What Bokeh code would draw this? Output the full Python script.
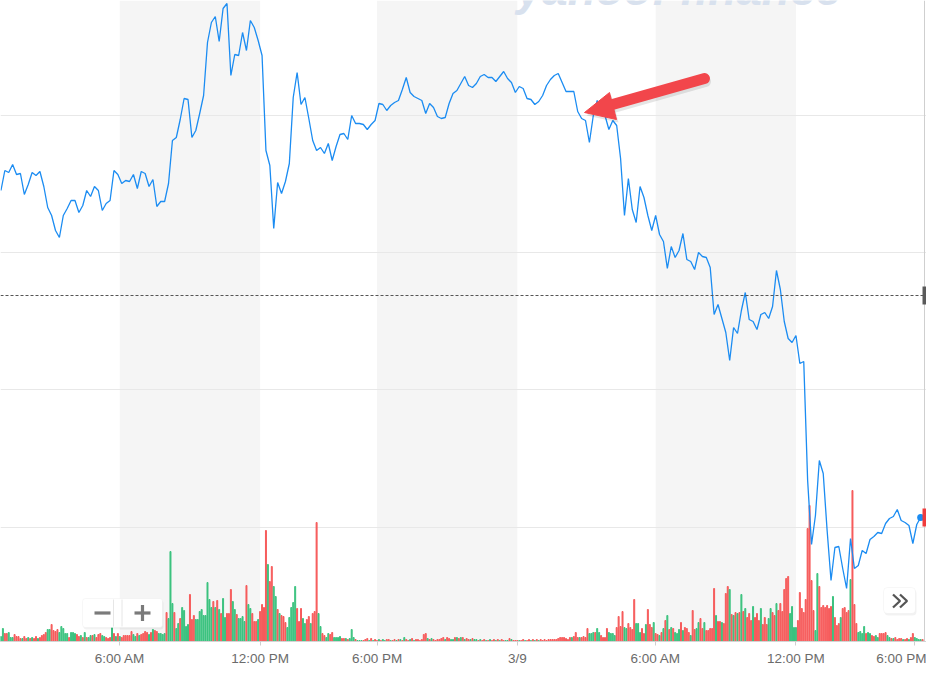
from bokeh.plotting import figure
from bokeh.models import Range1d, FixedTicker, Span, BoxAnnotation, Label
from bokeh.embed import file_html
from bokeh.resources import INLINE

# ---------------- data ----------------
# x positions are 5-minute bar indices; ticks every six hours
tick_index = [61, 133, 193, 265, 336, 408, 469]
tick_labels = ["6:00 AM", "12:00 PM", "6:00 PM", "3/9", "6:00 AM", "12:00 PM", "6:00 PM"]
session_bands = [(61, 133), (193, 265), (336, 408)]
price_levels = [17.3, 31.1, 44.8, 58.5]
prev_close = 40.5

# price sampled every second bar (10 minutes)
price = [
    51.0, 53.0, 52.8, 53.6, 52.6, 52.7, 50.6, 51.6, 52.8, 52.5,
    52.9, 51.4, 49.3, 48.5, 47.0, 46.3, 48.5, 49.2, 50.0, 50.0,
    48.8, 49.5, 51.0, 50.4, 51.4, 51.0, 49.0, 49.7, 50.0, 53.0,
    52.6, 51.7, 52.0, 51.9, 52.6, 51.2, 52.9, 52.7, 51.4, 52.1,
    49.4, 49.9, 49.9, 51.7, 56.0, 56.3, 58.1, 60.2, 60.1, 56.3,
    57.0, 58.7, 60.5, 65.8, 67.8, 68.4, 65.9, 69.2, 69.7, 62.5,
    64.6, 64.5, 66.8, 65.0, 68.0, 67.3, 66.0, 64.5, 55.0, 53.5,
    47.2, 51.8, 50.7, 51.9, 53.7, 60.3, 62.8, 59.6, 60.3, 58.2,
    56.0, 55.0, 55.3, 54.7, 55.7, 54.0, 55.4, 56.6, 56.7, 56.1,
    58.5, 57.7, 57.7, 57.6, 57.1, 57.6, 58.0, 59.7, 59.6, 59.0,
    59.5, 59.8, 60.0, 61.1, 62.3, 60.8, 60.4, 60.2, 60.0, 58.7,
    59.7, 59.3, 58.4, 58.2, 58.3, 59.7, 60.7, 61.0, 61.7, 62.4,
    61.5, 61.3, 61.7, 62.4, 62.6, 62.3, 62.3, 61.9, 62.4, 62.9,
    62.2, 61.8, 60.8, 61.4, 61.2, 60.2, 60.1, 59.6, 59.9, 60.5,
    61.5, 62.1, 62.5, 62.7, 61.8, 60.9, 60.9, 60.9, 58.9, 58.2,
    58.0, 55.8, 58.5, 60.0, 59.0, 58.5, 57.1, 58.0, 57.5, 54.2,
    48.5, 52.2, 49.1, 47.8, 51.4, 50.3, 48.5, 47.0, 48.5, 46.6,
    45.9, 43.2, 45.4, 44.3, 45.0, 46.7, 44.1, 43.9, 43.1, 44.8,
    44.4, 44.3, 43.3, 38.6, 39.6, 38.2, 36.8, 34.0, 37.3, 36.7,
    39.0, 40.8, 38.1, 37.9, 37.1, 38.6, 38.8, 38.2, 39.4, 43.0,
    41.1, 37.9, 36.2, 35.8, 36.5, 33.7, 33.9, 22.0, 15.6, 18.5,
    24.0, 22.7, 17.0, 12.0, 15.3, 15.4, 13.2, 11.2, 16.2, 13.2,
    13.5, 15.0, 14.7, 16.1, 16.4, 16.8, 16.7, 17.7, 18.2, 18.4,
    19.1, 18.0, 17.8, 17.5, 15.7, 17.6, 18.3,
]

# volume for every bar
volume = [
    5, 13, 8, 8, 9, 4, 4, 7, 5, 5, 3, 3, 5, 3, 4, 3, 4, 3, 5, 3,
    4, 6, 7, 9, 12, 12, 17, 11, 10, 12, 9, 15, 13, 8, 8, 4, 9, 9, 8, 7,
    5, 6, 4, 9, 4, 4, 6, 6, 7, 4, 7, 8, 6, 5, 4, 3, 4, 14,
    8, 5, 8, 5, 4, 6, 6, 6, 6, 10, 7, 5, 8, 6, 7, 8, 10, 9, 7, 9,
    12, 11, 10, 8, 8, 7, 8,
    29, 23, 90, 38, 29, 13, 18, 23, 34, 31, 15, 17, 47, 22, 26, 22, 22, 30, 32, 26,
    26, 59, 42, 34, 40, 34, 41, 32, 28, 43, 24, 28, 28, 52, 40, 32, 27, 23, 23, 25,
    20, 56, 37, 33, 28, 20, 20, 22,
    30, 37, 34, 111, 77, 60, 75, 55, 45, 32, 28, 26, 25, 19, 14, 24, 34, 39, 55, 33,
    20, 33, 23, 18, 22, 25, 18, 28, 30, 119, 28, 15, 8, 6, 4, 8, 7, 9, 4, 4,
    4, 5, 3, 3, 3, 2, 3, 12, 4, 2, 1, 1,
    1, 1, 2, 3, 1, 3, 1, 2, 1, 2, 1, 2, 1, 2, 2, 1, 1, 2, 1, 2,
    2, 1, 4, 2, 1, 2, 3, 1, 2, 2, 1, 2, 7, 8, 3, 2, 3, 2, 1, 2,
    2, 3, 4, 2, 4, 3, 2, 2, 4, 4, 3, 4, 4, 2, 3, 2, 2, 3, 2, 2,
    1, 2, 1, 2, 1, 1, 2, 1, 2, 1, 2, 1, 2, 1, 1, 1, 3, 2, 1, 1,
    1, 1, 1, 2, 1, 1, 2, 1, 2, 1, 2, 1, 2, 1, 2, 1, 2, 2, 2, 2,
    2, 3, 4, 4, 4, 3, 2, 4, 4, 5, 9, 4, 4, 4, 5, 4, 13, 8, 8, 9,
    9, 13, 9, 6, 4, 4, 13, 9, 8, 8, 6, 14, 25, 15, 30, 14, 13, 18, 14, 12,
    42, 18, 18, 9, 13, 8, 17, 32, 17, 14, 19, 8,
    7, 6, 9, 13, 21, 26, 12, 14, 13, 9, 8, 12, 19, 11, 14, 13, 9, 6, 31, 12,
    13, 19, 23, 13, 19, 11, 11, 13, 13, 53, 26, 20, 20, 19, 18, 48, 55, 52, 27, 26,
    29, 28, 29, 47, 30, 33, 24, 28, 21, 35, 24, 28, 21, 33, 17, 24, 17, 23, 33, 29,
    26, 38, 31, 38, 30, 52, 63, 65, 28, 35, 14, 14,
    21, 49, 33, 29, 42, 113, 136, 61, 31, 11, 68, 55, 34, 36, 34, 36, 33, 35, 45, 24,
    16, 18, 24, 33, 34, 29, 31, 62, 151, 37, 18, 9, 10, 8, 15, 8, 9, 8, 6, 5,
    6, 4, 8, 8, 8, 9, 6, 4, 3, 3, 4, 2, 3, 3, 2, 2, 3, 2, 4, 8,
    4, 3, 2, 2, 2,
]

# bar direction: g = up bar, r = down bar
volume_dir = (
    "ggrrgggrrr" "rgrrgrgrrg" "rrrrggrrrr" "gggggrgggr" "rgrgrggrgr" "rrggrrrg"
    "rgrgrrrrrr" "ggrgrrrrgr" "grrgggg"
    "rgggrggrgg" "ggrrrggggg" "ggggrgrgrg" "grrrggrggg" "grggrrrg"
    "rrrrgrrggr" "grrrgggggr" "rrggrrgrrr" "ggrrggrrgg" "ggrrgrgggr" "gg"
    "grrrgrgrrg" "rggrrgrrgr" "grgrrgrgrr" "rrrrgrgrrr" "rrrgrrggrg" "rgrgrrgrgg"
    "rgrrgrgrrg" "rgrrggrgrr"
    "rgrrgrrgrg" "rgrrrrrrrr" "rrrrrrrrgr" "rrgrrrrggg" "rggrrrrggg" "grrrrggrrr"
    "rgggrrgrrr" "gr"
    "r" "grgrgrgrgg" "grgrrrgrrg" "grrgrrrrrg" "rrgrrrgrgr" "grgrgrrrgr" "rrgrrrggrr"
    "grrrrrrggg" "g"
    "rrrrrrrrrg" "grrrrrrrgr" "rrgrrrrgrr" "rggggrggrr" "ggrrrrggrg" "rrrrgrrgrr" "ggggr"
)

# ---------------- figure ----------------
price_x = list(range(0, 2 * len(price), 2))
vol_x = list(range(len(volume)))
vol_colors = ["#3ac27e" if d == "g" else "#f65a5a" for d in volume_dir]

p = figure(width=926, height=677, output_backend="svg", toolbar_location=None,
           x_range=Range1d(-0.23, 475.0), y_range=Range1d(5.9, 70.0),
           y_axis_location=None,
           min_border_left=0, min_border_right=0, min_border_top=0, min_border_bottom=36)
p.outline_line_color = None
p.background_fill_color = "white"
p.border_fill_color = "white"
p.grid.visible = False

# screen-pixel helper ranges for chrome and a separate scale for volume
p.extra_x_ranges = {"px": Range1d(0, 926)}
p.extra_y_ranges = {"px": Range1d(641, 0), "vol": Range1d(0, 641)}

# alternating six-hour session shading
for a, b in session_bands:
    p.add_layout(BoxAnnotation(left=a, right=b, fill_color="#f5f5f5", fill_alpha=1.0,
                               line_color=None, level="underlay"))

# horizontal price grid
for lv in price_levels:
    p.add_layout(Span(location=lv, dimension="width", line_color="#e8e8e8",
                      line_width=1, level="underlay"))

# right edge border
p.add_layout(Span(location=924, dimension="height", x_range_name="px",
                  line_color="#cfcfcf", line_width=1))

# watermark, mostly above the top edge
p.add_layout(Label(x=516, y=-12, x_range_name="px", y_range_name="px",
                   text="yahoo! finance", text_font="Liberation Sans",
                   text_font_size="46px", text_font_style="bold italic",
                   text_color="#d8e1ee", text_baseline="alphabetic", text_align="left"))

# volume bars
p.vbar(x=vol_x, top=volume, bottom=0, width=0.5, color=vol_colors,
       y_range_name="vol")

# price line
p.line(price_x, price, line_color="#1b8cf2", line_width=1.3)

# previous close
p.add_layout(Span(location=prev_close, dimension="width", line_color="#555555",
                  line_width=1, line_dash="3 2"))

# right-edge value markers
p.rect(x=[924.5], y=[prev_close], width=5, height=18, width_units="screen",
       height_units="screen", x_range_name="px", fill_color="#5a5a5a",
       line_color=None, level="overlay")
p.scatter(x=[price_x[-1]], y=[price[-1]], size=7, marker="circle",
          fill_color="#1b8cf2", line_color=None, level="overlay")
p.rect(x=[924.5], y=[price[-1]], width=5, height=18, width_units="screen",
       height_units="screen", x_range_name="px", fill_color="#f03c3c",
       line_color=None, level="overlay")

# zoom buttons
p.add_layout(BoxAnnotation(left=83, right=163, top=600, bottom=629, x_range_name="px",
                           y_range_name="px", fill_color="#000000", fill_alpha=0.05,
                           line_color=None, border_radius=3))
p.add_layout(BoxAnnotation(left=82, right=162, top=598, bottom=627, x_range_name="px",
                           y_range_name="px", fill_color="white", fill_alpha=1.0,
                           line_color="#e4e4e4", line_width=1, border_radius=3))
p.segment(x0=[113, 121.5], y0=[599, 599], x1=[113, 121.5], y1=[626, 626],
          x_range_name="px", y_range_name="px", line_color="#e6e6e6",
          line_width=1, level="overlay")
p.segment(x0=[94, 134, 142], y0=[612.5, 612.5, 604.5], x1=[110, 150, 142],
          y1=[612.5, 612.5, 620.5], x_range_name="px", y_range_name="px",
          line_color="#7a7a7a", line_width=3.2, level="overlay")

# scroll button
p.add_layout(BoxAnnotation(left=884, right=916, top=589, bottom=615, x_range_name="px",
                           y_range_name="px", fill_color="#000000", fill_alpha=0.05,
                           line_color=None, border_radius=4))
p.add_layout(BoxAnnotation(left=883, right=915, top=587, bottom=613, x_range_name="px",
                           y_range_name="px", fill_color="white", fill_alpha=1.0,
                           line_color="#e4e4e4", line_width=1, border_radius=4))
p.multi_line(xs=[[892.5, 899.5, 892.5], [899.5, 906.5, 899.5]],
             ys=[[594, 600.5, 607], [594, 600.5, 607]],
             x_range_name="px", y_range_name="px", line_color="#555555",
             line_width=2.3, level="overlay")

# callout arrow with soft shadow
arrow_red = "#f2464b"
p.line(x=[705, 613], y=[81, 107], x_range_name="px", y_range_name="px",
       line_color="black", line_alpha=0.10, line_width=11, line_cap="round",
       level="overlay")
p.patch(x=[586, 611, 618], y=[115, 95, 122], x_range_name="px", y_range_name="px",
        fill_color="black", fill_alpha=0.10, line_color=None, level="overlay")
p.line(x=[704, 612], y=[78, 104], x_range_name="px", y_range_name="px",
       line_color=arrow_red, line_width=11, line_cap="round", level="overlay")
p.patch(x=[584, 609, 616], y=[112, 92, 119], x_range_name="px", y_range_name="px",
        fill_color=arrow_red, line_color=arrow_red, line_width=1, level="overlay")

# time axis
ax = p.xaxis[0]
ax.ticker = FixedTicker(ticks=tick_index)
ax.major_label_overrides = {t: s for t, s in zip(tick_index, tick_labels)}
ax.minor_tick_line_color = None
ax.major_tick_in = 0
ax.major_tick_out = 4
ax.major_tick_line_color = "#cfcfcf"
ax.axis_line_color = "#d4d4d4"
ax.major_label_text_font = "Liberation Sans"
ax.major_label_text_font_size = "13.5px"
ax.major_label_text_color = "#6b6b6b"
ax.major_label_standoff = 5

open("out.html", "w").write(file_html(p, INLINE))
